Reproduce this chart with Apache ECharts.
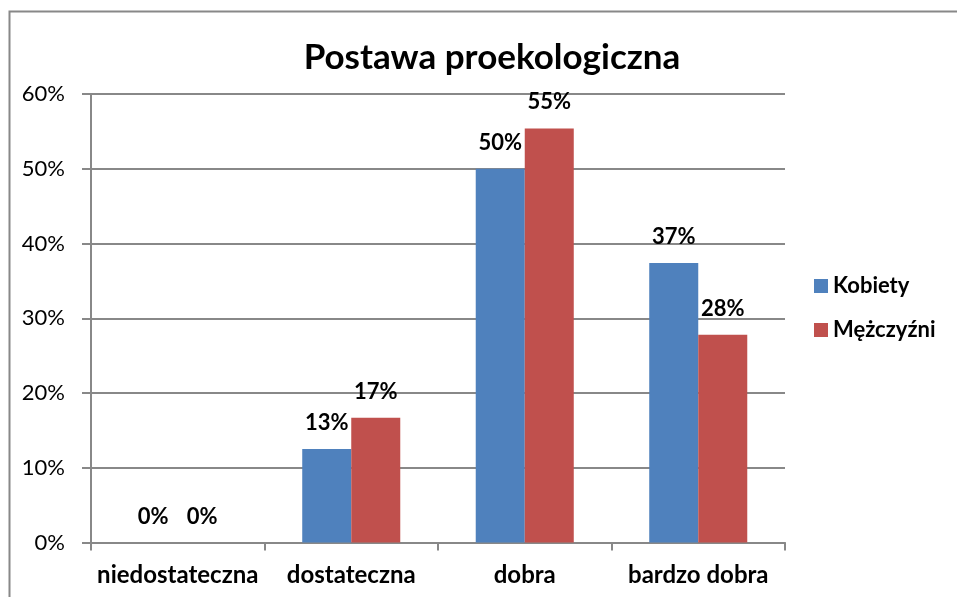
<!DOCTYPE html>
<html><head><meta charset="utf-8">
<script src="https://cdn.jsdelivr.net/npm/echarts@6/dist/echarts.min.js"></script>
<style>html,body{margin:0;padding:0;background:#fff}#c{width:957px;height:597px}</style>
</head><body><div id="c"></div>
<script>
const categories = ['niedostateczna', 'dostateczna', 'dobra', 'bardzo dobra'];
const kobiety = [0, 12.5, 50, 37.4];
const mezczyzni = [0, 16.7, 55.4, 27.8];
const seriesNames = ['Kobiety', 'Mężczyźni'];
const yTicks = [0, 10, 20, 30, 40, 50, 60];

const FONT = 'Lato';
const chart = echarts.init(document.getElementById('c'), null, {renderer: 'canvas'});
const labelOpt = {
  show: true, position: 'top', distance: 15,
  formatter: p => Math.round(p.value) + '%',
  fontFamily: FONT, fontWeight: 'bold', fontSize: 22, color: '#000'
};
chart.setOption({
  animation: false,
  textStyle: {fontFamily: FONT},
  title: {
    text: 'Postawa proekologiczna', left: 487, top: 35, textAlign: 'center',
    textStyle: {fontFamily: FONT, fontWeight: 'bold', fontSize: 35, color: '#000'}
  },
  graphic: [{
    type: 'polyline', silent: true,
    shape: {points: [[9.5, 600], [9.5, 11.5], [960, 11.5]]},
    style: {stroke: '#888', lineWidth: 2, fill: null}
  }],
  legend: {
    orient: 'vertical', left: 809, top: 270,
    itemWidth: 14, itemHeight: 14, itemGap: 22,
    icon: 'rect',
    textStyle: {fontFamily: FONT, fontWeight: 'bold', fontSize: 22, color: '#000'},
    data: seriesNames
  },
  grid: {left: 91, right: 172, top: 94, bottom: 54.5, containLabel: false},
  xAxis: {
    type: 'category', data: categories,
    axisLine: {lineStyle: {color: '#888', width: 2}},
    axisTick: {show: true, interval: 0, length: 8, lineStyle: {color: '#888', width: 2}},
    axisLabel: {interval: 0, fontFamily: FONT, fontWeight: 'bold', fontSize: 24, color: '#000', margin: 21}
  },
  yAxis: {
    type: 'value', min: 0, max: 60, interval: 10,
    axisLine: {show: true, lineStyle: {color: '#888', width: 2}},
    axisTick: {show: true, length: 9, lineStyle: {color: '#888', width: 2}},
    axisLabel: {formatter: v => v + '%', fontFamily: FONT, fontSize: 22, color: '#000', margin: 26},
    splitLine: {lineStyle: {color: '#888', width: 2}}
  },
  series: [
    {name: seriesNames[0], type: 'bar', data: kobiety, barGap: '0%', barCategoryGap: '43.5%',
     itemStyle: {color: '#4F81BD'}, label: labelOpt},
    {name: seriesNames[1], type: 'bar', data: mezczyzni, barGap: '0%', barCategoryGap: '43.5%',
     itemStyle: {color: '#C0504D'}, label: labelOpt}
  ]
});
</script></body></html>
